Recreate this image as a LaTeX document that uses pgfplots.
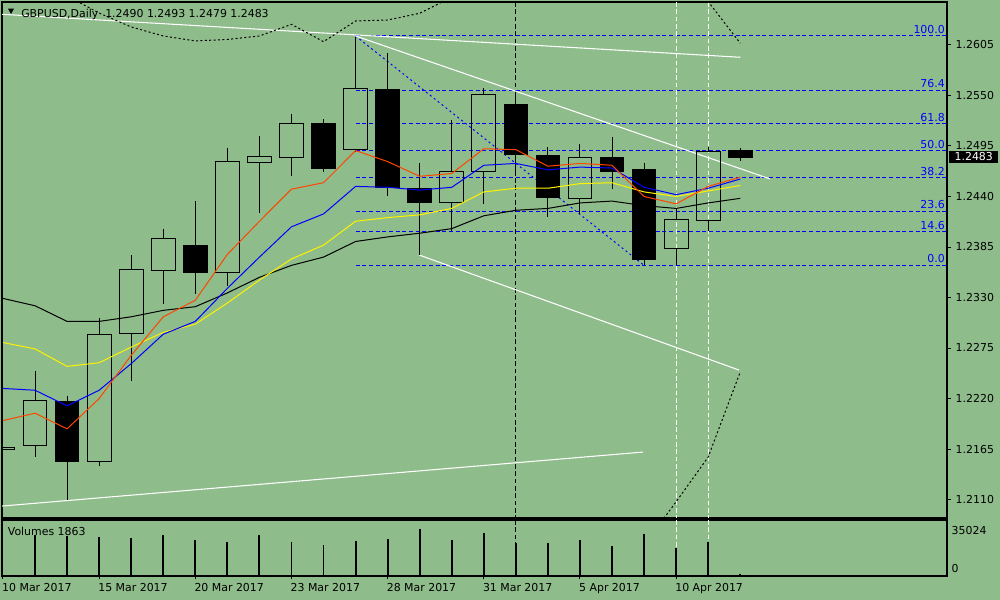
\documentclass[border=0pt]{standalone}
\usepackage{fontspec}
\setmainfont{DejaVu Sans}
\usepackage{pgfplots}
\pgfplotsset{compat=1.18}
\definecolor{bgc}{RGB}{143,188,139}
\definecolor{mared}{RGB}{255,69,0}
\definecolor{fibblue}{RGB}{0,0,255}
\newcommand{\fs}{\fontsize{8.2}{9.8}\selectfont}
% #1 fill, #2 k, #3 high, #4 body top, #5 body bottom, #6 low
\newcommand{\cndl}[6]{%
 \pgfmathsetmacro\xl{#2-0.37}\pgfmathsetmacro\xr{#2+0.37}%
 \addplot[black,line width=0.75pt,forget plot] coordinates {(#2,#3) (#2,#4)};
 \addplot[black,line width=0.75pt,forget plot] coordinates {(#2,#5) (#2,#6)};
 \addplot[#1,draw=black,line width=0.75pt,forget plot] coordinates {(\xl,#5) (\xr,#5) (\xr,#4) (\xl,#4)} --cycle;
}
% k O H L C
\newcommand{\bull}[5]{\cndl{fill=none}{#1}{#3}{#5}{#2}{#4}}
\newcommand{\bear}[5]{\cndl{fill=black}{#1}{#3}{#2}{#5}{#4}}
\begin{document}
\begin{tikzpicture}
\path[use as bounding box, fill=bgc] (0,0) rectangle (750pt,450pt);
\begin{axis}[
  at={(1.5pt,61.5pt)}, anchor=south west,
  scale only axis, width=708.75pt, height=387pt,
  xmin=-0.031, xmax=29.45, ymin=1.20899, ymax=1.26518,
  axis line style={black,line width=1pt},
  xtick=\empty,
  ytick={1.2110,1.2165,1.2220,1.2275,1.2330,1.2385,1.2440,1.2495,1.2550,1.2605},
  ytick pos=right, yticklabel pos=right,
  tick align=outside, major tick length=3pt,
  tick style={black,line width=0.75pt},
  yticklabel style={font=\fs, /pgf/number format/fixed, /pgf/number format/precision=4, /pgf/number format/fixed zerofill, /pgf/number format/assume math mode=true},
  scaled y ticks=false,
  clip mode=individual,
]
% Fibonacci levels
\addplot[fibblue,line width=0.75pt,dash pattern=on 3pt off 2pt] coordinates {(11,1.26148) (29.6,1.26148)};
\addplot[fibblue,line width=0.75pt,dash pattern=on 3pt off 2pt] coordinates {(11,1.255585) (29.6,1.255585)};
\addplot[fibblue,line width=0.75pt,dash pattern=on 3pt off 2pt] coordinates {(11,1.251937) (29.6,1.251937)};
\addplot[fibblue,line width=0.75pt,dash pattern=on 3pt off 2pt] coordinates {(11,1.24899) (29.6,1.24899)};
\addplot[fibblue,line width=0.75pt,dash pattern=on 3pt off 2pt] coordinates {(11,1.246042) (29.6,1.246042)};
\addplot[fibblue,line width=0.75pt,dash pattern=on 3pt off 2pt] coordinates {(11,1.242395) (29.6,1.242395)};
\addplot[fibblue,line width=0.75pt,dash pattern=on 3pt off 2pt] coordinates {(11,1.24015) (29.6,1.24015)};
\addplot[fibblue,line width=0.75pt,dash pattern=on 3pt off 2pt] coordinates {(11,1.2365) (29.6,1.2365)};
\addplot[fibblue,line width=0.75pt,dash pattern=on 1.5pt off 2.25pt] coordinates {(11,1.26148) (20,1.2365)};
% vertical lines
\addplot[black,line width=0.75pt,dash pattern=on 3.5pt off 2pt] coordinates {(16,1.20) (16,1.27)};
\addplot[white,line width=0.75pt,dash pattern=on 3.5pt off 2pt] coordinates {(21,1.20) (21,1.27)};
\addplot[white,line width=0.75pt,dash pattern=on 3.5pt off 2pt] coordinates {(22,1.20) (22,1.27)};
% trend lines
\addplot[white,line width=0.8pt] coordinates {(-0.031,1.26384) (23.0,1.25916)};
\addplot[white,line width=0.8pt] coordinates {(11,1.26148) (23.93,1.24591)};
\addplot[white,line width=0.8pt] coordinates {(12.98,1.23763) (22.96,1.22510)};
\addplot[white,line width=0.8pt] coordinates {(-0.031,1.21029) (19.97,1.21617)};
% candles: k O H L C
\bull{0}{1.2165}{1.2188}{1.2139}{1.2167}
\bull{1}{1.2169}{1.2250}{1.2156}{1.2218}
\bear{2}{1.2217}{1.2223}{1.2109}{1.2151}
\bull{3}{1.2151}{1.2308}{1.2146}{1.2290}
\bull{4}{1.2291}{1.2376}{1.2239}{1.2360}
\bull{5}{1.2359}{1.2405}{1.2323}{1.2394}
\bear{6}{1.2387}{1.2435}{1.2334}{1.2357}
\bull{7}{1.2357}{1.2493}{1.2342}{1.2478}
\bull{8}{1.2477}{1.2506}{1.2422}{1.2484}
\bull{9}{1.2483}{1.2530}{1.2462}{1.2519}
\bear{10}{1.2520}{1.2524}{1.2467}{1.2471}
\bull{11}{1.2491}{1.2614}{1.2488}{1.2558}
\bear{12}{1.2557}{1.2596}{1.2440}{1.2450}
\bear{13}{1.2449}{1.2476}{1.2376}{1.2433}
\bull{14}{1.2434}{1.2523}{1.2402}{1.2467}
\bull{15}{1.2467}{1.2558}{1.2432}{1.2551}
\bear{16}{1.2540}{1.2554}{1.2462}{1.2486}
\bear{17}{1.2485}{1.2494}{1.2418}{1.2439}
\bull{18}{1.2438}{1.2497}{1.2421}{1.2483}
\bear{19}{1.2482}{1.2505}{1.2448}{1.2467}
\bear{20}{1.2469}{1.2477}{1.2365}{1.2371}
\bull{21}{1.2383}{1.2428}{1.2365}{1.2415}
\bull{22}{1.2414}{1.2494}{1.2402}{1.2489}
\bear{23}{1.2490}{1.2493}{1.2479}{1.2483}
% moving averages
\addplot[black,line width=0.75pt] coordinates {(0,1.2329)(1,1.2321)(2,1.2304)(3,1.2304)(4,1.2309)(5,1.2316)(6,1.2320)(7,1.2335)(8,1.2352)(9,1.2365)(10,1.2374)(11,1.2391)(12,1.2396)(13,1.2400)(14,1.2405)(15,1.2419)(16,1.2425)(17,1.2427)(18,1.2433)(19,1.2435)(20,1.2430)(21,1.2427)(22,1.2433)(23,1.2438)};
\addplot[yellow,line width=0.75pt] coordinates {(0,1.2281)(1,1.2274)(2,1.2255)(3,1.2259)(4,1.2276)(5,1.2292)(6,1.2301)(7,1.2324)(8,1.2349)(9,1.2372)(10,1.2387)(11,1.2413)(12,1.2417)(13,1.2420)(14,1.2427)(15,1.2445)(16,1.2449)(17,1.2449)(18,1.2454)(19,1.2455)(20,1.2445)(21,1.2440)(22,1.2446)(23,1.2452)};
\addplot[fibblue,line width=0.75pt] coordinates {(0,1.2231)(1,1.2229)(2,1.2212)(3,1.2229)(4,1.2258)(5,1.2290)(6,1.2304)(7,1.2340)(8,1.2374)(9,1.2407)(10,1.2421)(11,1.2451)(12,1.2450)(13,1.2447)(14,1.2450)(15,1.2474)(16,1.2476)(17,1.2469)(18,1.2472)(19,1.2471)(20,1.2450)(21,1.2442)(22,1.2449)(23,1.2459)};
\addplot[mared,line width=0.75pt] coordinates {(0,1.2196)(1,1.2204)(2,1.2187)(3,1.2220)(4,1.2267)(5,1.2309)(6,1.2327)(7,1.2377)(8,1.2413)(9,1.2448)(10,1.2455)(11,1.2490)(12,1.2478)(13,1.2462)(14,1.2465)(15,1.2492)(16,1.2491)(17,1.2473)(18,1.2476)(19,1.2474)(20,1.2440)(21,1.2432)(22,1.2451)(23,1.2461)};
% envelope bands (dotted)
\addplot[black,line width=0.75pt,dash pattern=on 1.5pt off 1.8pt] coordinates {(1,1.26812)(2,1.26584)(3,1.26398)(4,1.26246)(5,1.26148)(6,1.26094)(7,1.26110)(8,1.26148)(9,1.26275)(10,1.26086)(11,1.26311)(12,1.26322)(13,1.26395)(14,1.26571)(15,1.26812)(16,1.26867)(17,1.26921)(18,1.26921)(19,1.26921)(20,1.27030)(21,1.26866)(22,1.26522)(23,1.26069)};
\addplot[black,line width=0.75pt,dash pattern=on 1.5pt off 1.8pt] coordinates {(19,1.20006)(20,1.20605)(21,1.21076)(22,1.21563)(23,1.22489)};
% fibo labels
\node[fibblue,font=\fs,anchor=base east,inner sep=0pt,yshift=1.8pt] at (axis cs:29.39,1.26148) {100.0};
\node[fibblue,font=\fs,anchor=base east,inner sep=0pt,yshift=1.8pt] at (axis cs:29.39,1.255585) {76.4};
\node[fibblue,font=\fs,anchor=base east,inner sep=0pt,yshift=1.8pt] at (axis cs:29.39,1.251937) {61.8};
\node[fibblue,font=\fs,anchor=base east,inner sep=0pt,yshift=1.8pt] at (axis cs:29.39,1.24899) {50.0};
\node[fibblue,font=\fs,anchor=base east,inner sep=0pt,yshift=1.8pt] at (axis cs:29.39,1.246042) {38.2};
\node[fibblue,font=\fs,anchor=base east,inner sep=0pt,yshift=1.8pt] at (axis cs:29.39,1.242395) {23.6};
\node[fibblue,font=\fs,anchor=base east,inner sep=0pt,yshift=1.8pt] at (axis cs:29.39,1.24015) {14.6};
\node[fibblue,font=\fs,anchor=base east,inner sep=0pt,yshift=1.8pt] at (axis cs:29.39,1.2365) {0.0};
\end{axis}
% volume panel
\begin{axis}[
  at={(1.5pt,18pt)}, anchor=south west,
  scale only axis, width=708.75pt, height=42pt,
  xmin=-0.031, xmax=29.45, ymin=0, ymax=43568,
  axis line style={black,line width=1pt},
  xtick={0,3,6,9,12,15,18,21},
  xticklabels={10 Mar 2017,15 Mar 2017,20 Mar 2017,23 Mar 2017,28 Mar 2017,31 Mar 2017,5 Apr 2017,10 Apr 2017},
  xtick pos=bottom,
  tick align=outside, major tick length=2.5pt,
  tick style={black,line width=0.75pt},
  xticklabel style={font=\fs,anchor=base west,inner sep=0pt,xshift=-0.8pt,yshift=-9pt},
  ytick=\empty,
  clip mode=individual,
]
\addplot[black,line width=0.75pt,dash pattern=on 3.5pt off 2pt] coordinates {(16,0) (16,43568)};
\addplot[white,line width=0.75pt,dash pattern=on 3.5pt off 2pt] coordinates {(21,0) (21,43568)};
\addplot[white,line width=0.75pt,dash pattern=on 3.5pt off 2pt] coordinates {(22,0) (22,43568)};
\addplot[ycomb,black,line width=1.4pt] coordinates {(1,31900)(2,31100)(3,30300)(4,29600)(5,31900)(6,28000)(7,26500)(8,31900)(9,26500)(10,24100)(11,27200)(12,28800)(13,36800)(14,28000)(15,33500)(16,25700)(17,25700)(18,28000)(19,23300)(20,32700)(21,21800)(22,26500)(23,1863)};
\end{axis}
% texts
\fill[black] (6pt,443.5pt) -- (10.5pt,443.5pt) -- (8.25pt,439.5pt) -- cycle;
\node[font=\fs,anchor=base west,inner sep=0pt] at (15.75pt,437pt) {GBPUSD,Daily\ \ 1.2490 1.2493 1.2479 1.2483};
\node[font=\fs,anchor=base west,inner sep=0pt] at (5.7pt,48pt) {Volumes 1863};
\node[font=\fs,anchor=base west,inner sep=0pt] at (713.6pt,48.75pt) {35024};
\node[font=\fs,anchor=base west,inner sep=0pt] at (713.6pt,20.25pt) {0};
\node[fill=black,text=white,font=\fs,anchor=west,inner sep=0pt,minimum width=36.75pt,minimum height=9.5pt] at (711.75pt,332.25pt) {1.2483};
\end{tikzpicture}
\end{document}
